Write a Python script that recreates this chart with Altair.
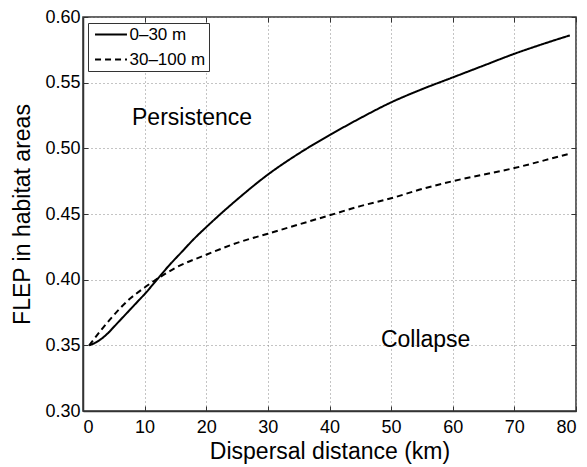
import altair as alt
import pandas as pd

x_solid = [1, 2, 3, 4, 5, 6, 7, 8, 9, 10, 12, 14, 16, 18, 20, 25, 30, 35, 40, 45, 50, 55, 60, 65, 70, 75, 79]
y_solid = [0.350, 0.352, 0.355, 0.359, 0.364, 0.369, 0.374, 0.379, 0.384, 0.389, 0.400, 0.411, 0.421, 0.431, 0.440, 0.461, 0.480, 0.496, 0.510, 0.523, 0.535, 0.545, 0.554, 0.563, 0.572, 0.580, 0.586]
x_dash = [1, 3, 5, 7.5, 10, 12.5, 15, 20, 25, 30, 35, 40, 45, 50, 55, 60, 65, 70, 75, 79]
y_dash = [0.350, 0.362, 0.373, 0.385, 0.394, 0.402, 0.409, 0.419, 0.428, 0.435, 0.442, 0.449, 0.456, 0.462, 0.469, 0.475, 0.480, 0.485, 0.491, 0.496]
series_names = ["0\u201330 m", "30\u2013100 m"]

x_ticks = [0, 10, 20, 30, 40, 50, 60, 70, 80]
y_ticks = [0.30, 0.35, 0.40, 0.45, 0.50, 0.55, 0.60]

label_text = ["Persistence", "Collapse"]
label_x = [17.7, 55.6]
label_y = [0.523, 0.354]

rows = []
for xv, yv in zip(x_solid, y_solid):
    rows.append({"x": xv, "y": yv, "s": series_names[0]})
for xv, yv in zip(x_dash, y_dash):
    rows.append({"x": xv, "y": yv, "s": series_names[1]})
df = pd.DataFrame(rows)
lab = pd.DataFrame({"t": label_text, "x": label_x, "y": label_y})

FONT = "Liberation Sans"
INWARD = alt.ExprRef("-5")

xs = alt.Scale(domain=[0, 80], nice=False, zero=False)
ys = alt.Scale(domain=[0.30, 0.60], nice=False, zero=False)

lines = alt.Chart(df).mark_line(color="black", strokeWidth=2, interpolate="monotone").encode(
    x=alt.X("x:Q", scale=xs, title="Dispersal distance (km)",
            axis=alt.Axis(values=x_ticks, format="d", tickSize=INWARD, labelPadding=12)),
    y=alt.Y("y:Q", scale=ys, title="FLEP in habitat areas",
            axis=alt.Axis(values=y_ticks, format=".2f", tickSize=INWARD, labelPadding=8)),
    strokeDash=alt.StrokeDash("s:N", scale=alt.Scale(domain=series_names, range=[[1, 0], [6, 4]]),
                              legend=alt.Legend(title=None, orient="none", legendX=5, legendY=6,
                                                symbolType="M-2.13,0L2.13,0", symbolStrokeColor="black",
                                                symbolStrokeWidth=2, symbolSize=225,
                                                symbolOffset=11.5,
                                                labelFont=FONT, labelFontSize=17, labelColor="black",
                                                strokeColor="#333", fillColor="white",
                                                padding=3, rowPadding=7, cornerRadius=0,
                                                labelOffset=10)),
)

texts = alt.Chart(lab).mark_text(font=FONT, fontSize=23, color="black").encode(
    x=alt.X("x:Q", scale=xs,
            axis=alt.Axis(orient="top", values=x_ticks, labels=False, title=None, grid=False,
                          domain=False, tickSize=INWARD)),
    y=alt.Y("y:Q", scale=ys,
            axis=alt.Axis(orient="right", values=y_ticks, labels=False, title=None, grid=False,
                          domain=False, tickSize=INWARD)),
    text="t:N")

chart = alt.layer(lines, texts).resolve_axis(x="independent", y="independent").properties(
    width=493, height=394, autosize="none",
    padding={"left": 83, "top": 17, "right": 11, "bottom": 56},
).configure_view(stroke="#333", strokeWidth=1.5).configure_axis(
    grid=True, gridColor="#888", gridOpacity=1, gridDash=[1, 3], gridWidth=1,
    domainColor="#333", domainWidth=1.5, ticks=True, tickColor="#333", tickWidth=1,
    labelFont=FONT, labelFontSize=18, labelColor="black",
    titleFont=FONT, titleFontSize=23, titleFontWeight="normal", titleColor="black",
).configure_axisX(titlePadding=4).configure_axisY(titlePadding=10)

chart.save("out.html", embed_options={"renderer": "svg", "actions": False})
